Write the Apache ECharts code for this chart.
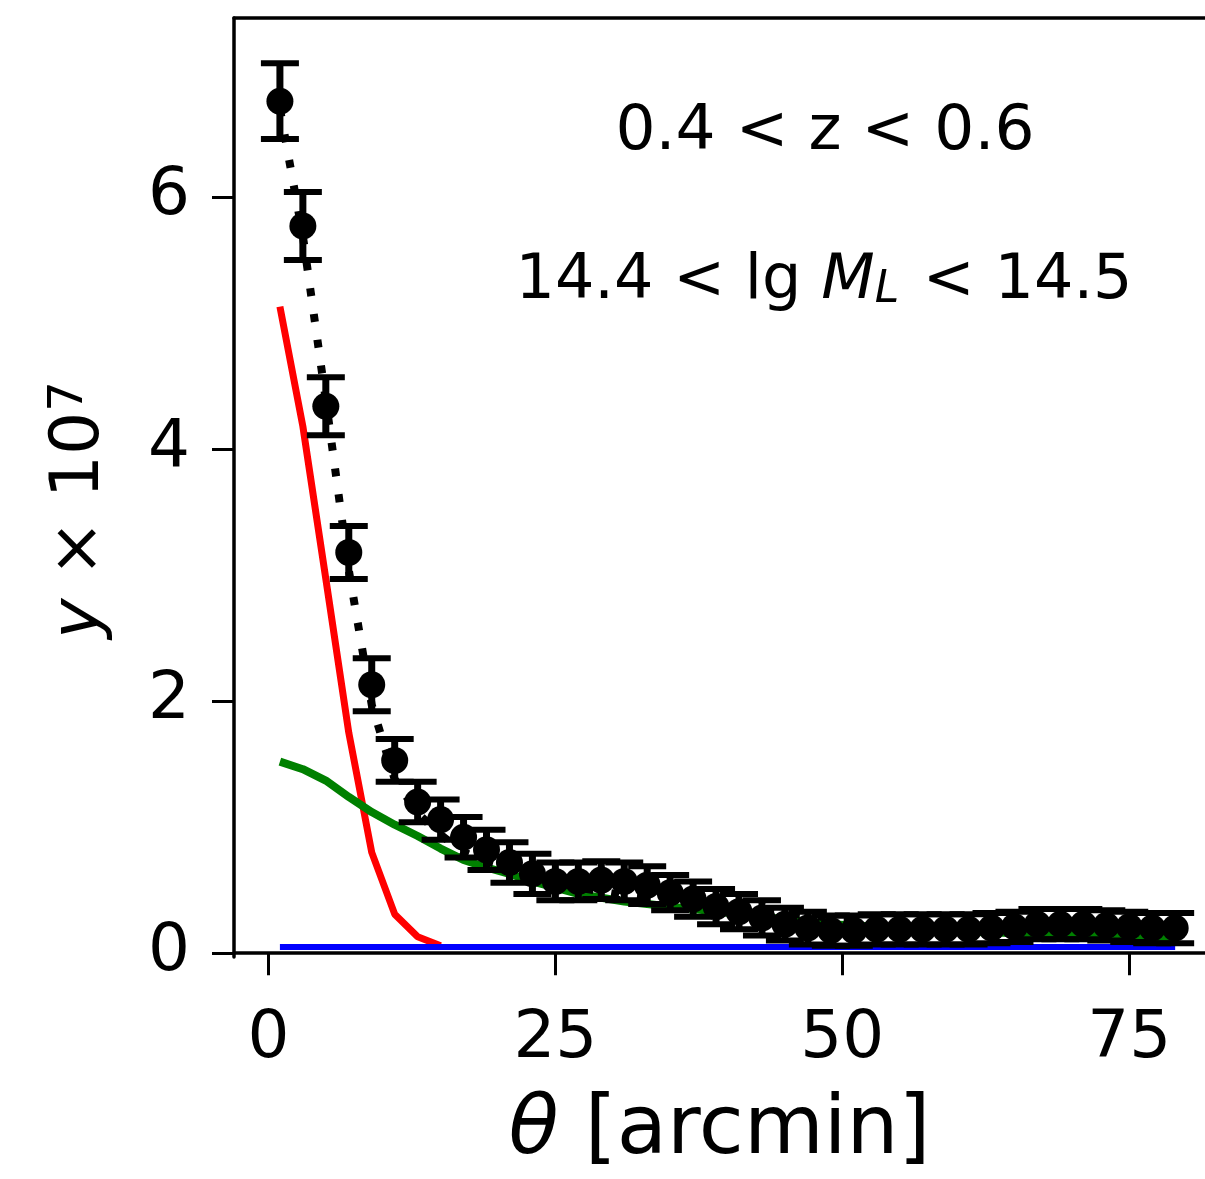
<!DOCTYPE html>
<html>
<head>
<meta charset="utf-8">
<script src="https://cdn.jsdelivr.net/npm/echarts@6/dist/echarts.min.js"></script>
<style>html,body{margin:0;padding:0;background:#fff;}#chart{width:1205px;height:1179px;}</style>
</head>
<body>
<div id="chart"></div>
<script>
// ---- data ----
const thetaPts = [1,3,5,7,9,11,13,15,17,19,21,23,25,27,29,31,33,35,37,39,41,43,45,47,49,51,53,55,57,59,61,63,65,67,69,71,73,75,77,79];
const yPts = [6.76,5.77,4.34,3.18,2.13,1.53,1.20,1.06,0.92,0.82,0.72,0.63,0.57,0.57,0.58,0.57,0.54,0.48,0.43,0.37,0.33,0.28,0.23,0.20,0.18,0.18,0.19,0.19,0.19,0.19,0.19,0.20,0.21,0.23,0.23,0.23,0.22,0.21,0.20,0.20];
const yErr = [0.30,0.27,0.23,0.21,0.21,0.17,0.16,0.16,0.16,0.16,0.16,0.16,0.15,0.15,0.15,0.15,0.15,0.14,0.14,0.14,0.14,0.14,0.13,0.13,0.12,0.12,0.12,0.12,0.12,0.12,0.12,0.12,0.12,0.12,0.12,0.12,0.12,0.12,0.12,0.12];
const thetaRed = [1,3,5,7,9,11,13,15];
const redY = [5.13,4.18,2.97,1.75,0.80,0.31,0.13,0.06];
const greenY = [1.52,1.46,1.37,1.24,1.12,1.02,0.93,0.83,0.74,0.68,0.63,0.57,0.52,0.47,0.44,0.41,0.39,0.37,0.35,0.33,0.31,0.29,0.27,0.25,0.23,0.22,0.21,0.20,0.19,0.18,0.17,0.165,0.16,0.155,0.15,0.145,0.14,0.135,0.13,0.13];
const blueY = [0.05,0.05,0.05,0.05,0.05,0.05,0.05,0.05,0.05,0.05,0.05,0.05,0.05,0.05,0.05,0.05,0.05,0.05,0.05,0.05,0.05,0.05,0.05,0.05,0.05,0.05,0.05,0.05,0.05,0.05,0.05,0.05,0.05,0.05,0.05,0.05,0.05,0.05,0.05,0.05];
const totalY = [6.70,5.69,4.39,3.04,1.97,1.38,1.11,0.94,0.80,0.73,0.68,0.62,0.57,0.52,0.49,0.46,0.44,0.42,0.40,0.38,0.36,0.34,0.32,0.30,0.28,0.27,0.26,0.25,0.24,0.23,0.22,0.215,0.21,0.205,0.20,0.195,0.19,0.185,0.18,0.18];
const xTicks = [0,25,50,75];
const yTicks = [0,2,4,6];
const label1 = '0.4 < z < 0.6';

const FONT = 'DejaVu Sans';
const pair = (xs, ys) => xs.map((x, i) => [x, ys[i]]);

const chart = echarts.init(document.getElementById('chart'), null, {renderer: 'canvas'});
const option = {
  backgroundColor: '#fff',
  animation: false,
  grid: {left: 234, top: 18, right: 0, bottom: 222, containLabel: false},
  xAxis: [{
    type: 'value', min: -3, max: 81.6, position: 'bottom',
    axisLine: {show: true, lineStyle: {color: '#000', width: 3.5}},
    axisTick: {show: true, length: 22, inside: false, customValues: xTicks, lineStyle: {color: '#000', width: 3}},
    axisLabel: {show: true, customValues: xTicks, margin: 50, color: '#000', fontSize: 66, fontFamily: FONT},
    splitLine: {show: false},
    name: '{i|θ} [arcmin]', nameLocation: 'middle', nameGap: 134,
    nameTextStyle: {fontSize: 82, fontFamily: FONT, color: '#000', rich: {i: {fontSize: 82, fontFamily: FONT, fontStyle: 'italic', color: '#000'}}}
  }, {
    type: 'value', min: -3, max: 81.6, position: 'top',
    axisLine: {show: true, onZero: false, lineStyle: {color: '#000', width: 3.5}},
    axisTick: {show: false}, axisLabel: {show: false}, splitLine: {show: false}
  }],
  yAxis: [{
    type: 'value', min: -0.03, max: 7.42,
    axisLine: {show: true, onZero: false, lineStyle: {color: '#000', width: 3.5}},
    axisTick: {show: true, length: 22, customValues: yTicks, lineStyle: {color: '#000', width: 3}},
    axisLabel: {show: true, customValues: yTicks, margin: 44, color: '#000', fontSize: 66, fontFamily: FONT},
    splitLine: {show: false}
  }],
  graphic: [
    {type: 'text', z: 100, x: 825, y: 133,
     style: {text: label1, font: '63px "DejaVu Sans"', fill: '#000', align: 'center', verticalAlign: 'middle'}},
    {type: 'text', z: 100, x: 824, y: 282,
     style: {
       text: '{n|14.4 < lg }{i|M}{s|L}{n| < 14.5}',
       align: 'center', verticalAlign: 'middle',
       rich: {
         n: {fontSize: 62, fontFamily: FONT, color: '#000'},
         i: {fontSize: 62, fontFamily: FONT, fontStyle: 'italic', color: '#000'},
         s: {fontSize: 44, fontFamily: FONT, fontStyle: 'italic', color: '#000', verticalAlign: 'bottom', padding: [0, 4, 0, 0]}
       }
     }},
    {type: 'text', z: 100, x: 80, y: 510, rotation: Math.PI / 2,
     style: {
       text: '{i|y} × 10{s|7}',
       align: 'center', verticalAlign: 'middle',
       rich: {
         i: {fontSize: 68, fontFamily: FONT, fontStyle: 'italic', color: '#000'},
         s: {fontSize: 48, fontFamily: FONT, color: '#000', verticalAlign: 'top'}
       },
       font: '68px "DejaVu Sans"'
     }}
  ],
  series: [
    {type: 'line', name: 'red', data: pair(thetaRed, redY), showSymbol: false, symbol: 'none', z: 2,
     lineStyle: {color: '#ff0000', width: 7}},
    {type: 'line', name: 'green', data: pair(thetaPts, greenY), showSymbol: false, symbol: 'none', z: 2,
     lineStyle: {color: '#008000', width: 8}},
    {type: 'line', name: 'blue', data: pair(thetaPts, blueY), showSymbol: false, symbol: 'none', z: 3,
     lineStyle: {color: '#0000ff', width: 6}},
    {type: 'line', name: 'total', data: pair(thetaPts, totalY), showSymbol: false, symbol: 'none', z: 3,
     lineStyle: {color: '#000', width: 8, type: [8, 18], cap: 'butt'}},
    {type: 'custom', name: 'err', z: 4,
     data: thetaPts.map((t, i) => [t, yPts[i], yErr[i]]),
     renderItem: function (params, api) {
       const x = api.value(0), y = api.value(1), e = api.value(2);
       const top = api.coord([x, y + e]);
       const bot = api.coord([x, y - e]);
       const h = 19;
       const st = {stroke: '#000', lineWidth: 6};
       return {type: 'group', children: [
         {type: 'line', shape: {x1: top[0], y1: top[1], x2: bot[0], y2: bot[1]}, style: {stroke: '#000', lineWidth: 7}},
         {type: 'line', shape: {x1: top[0] - h, y1: top[1], x2: top[0] + h, y2: top[1]}, style: st},
         {type: 'line', shape: {x1: bot[0] - h, y1: bot[1], x2: bot[0] + h, y2: bot[1]}, style: st}
       ]};
     }},
    {type: 'scatter', name: 'pts', data: pair(thetaPts, yPts), symbol: 'circle', symbolSize: 27, z: 5,
     itemStyle: {color: '#000', opacity: 1}}
  ]
};
chart.setOption(option);
</script>
</body>
</html>
